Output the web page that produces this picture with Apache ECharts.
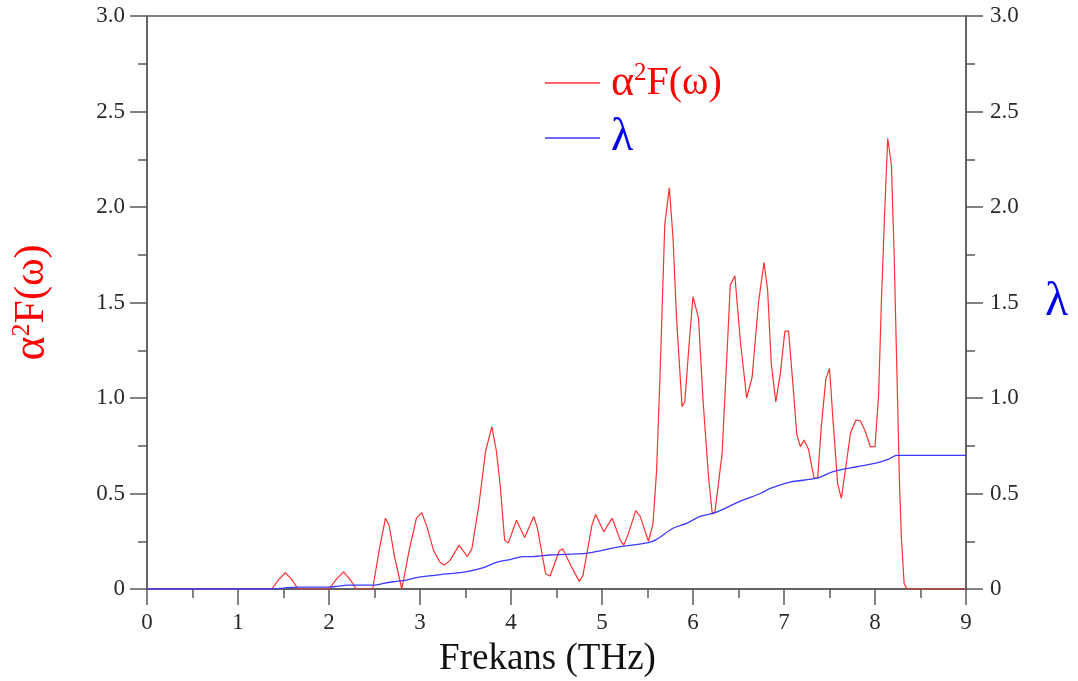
<!DOCTYPE html>
<html>
<head>
<meta charset="utf-8">
<script src="https://cdn.jsdelivr.net/npm/echarts@6/dist/echarts.min.js"></script>
<style>
html,body{margin:0;padding:0;background:#fff;}
#chart{width:1078px;height:681px;}
</style>
</head>
<body>
<div id="chart"></div>
<script>
// alpha^2 F(omega) (left axis)
const afFreq = [0, 1.37, 1.45, 1.52, 1.59, 1.66, 2.0, 2.08, 2.16, 2.23, 2.30, 2.48, 2.55, 2.62, 2.66, 2.72, 2.80, 2.88, 2.96, 3.02, 3.08, 3.15, 3.22, 3.27, 3.33, 3.43, 3.52, 3.57, 3.65, 3.72, 3.79, 3.84, 3.88, 3.93, 3.97, 4.06, 4.15, 4.25, 4.29, 4.38, 4.43, 4.53, 4.57, 4.66, 4.75, 4.79, 4.89, 4.93, 5.02, 5.11, 5.14, 5.20, 5.24, 5.29, 5.37, 5.42, 5.51, 5.56, 5.60, 5.64, 5.69, 5.74, 5.78, 5.82, 5.88, 5.91, 5.96, 6.00, 6.06, 6.11, 6.17, 6.21, 6.24, 6.32, 6.41, 6.46, 6.52, 6.59, 6.65, 6.72, 6.78, 6.82, 6.86, 6.91, 6.96, 7.01, 7.05, 7.10, 7.14, 7.18, 7.22, 7.27, 7.33, 7.37, 7.41, 7.46, 7.50, 7.54, 7.59, 7.63, 7.68, 7.73, 7.79, 7.84, 7.89, 7.95, 8.00, 8.04, 8.07, 8.11, 8.14, 8.18, 8.21, 8.24, 8.27, 8.29, 8.32, 8.35, 9.0];
const afVal = [0, 0, 0.05, 0.085, 0.05, 0, 0, 0.05, 0.09, 0.05, 0, 0, 0.2, 0.37, 0.335, 0.17, 0, 0.2, 0.37, 0.40, 0.32, 0.2, 0.14, 0.125, 0.15, 0.23, 0.17, 0.21, 0.45, 0.72, 0.85, 0.72, 0.55, 0.256, 0.24, 0.36, 0.27, 0.38, 0.32, 0.08, 0.068, 0.20, 0.21, 0.12, 0.04, 0.07, 0.335, 0.39, 0.30, 0.37, 0.335, 0.256, 0.23, 0.29, 0.41, 0.38, 0.25, 0.34, 0.62, 1.15, 1.91, 2.10, 1.84, 1.41, 0.955, 0.98, 1.30, 1.53, 1.42, 0.99, 0.59, 0.40, 0.40, 0.71, 1.59, 1.64, 1.30, 1.00, 1.11, 1.50, 1.71, 1.565, 1.18, 0.98, 1.13, 1.35, 1.35, 1.06, 0.81, 0.745, 0.78, 0.73, 0.58, 0.58, 0.85, 1.10, 1.155, 0.875, 0.55, 0.475, 0.64, 0.815, 0.885, 0.88, 0.83, 0.745, 0.745, 1.02, 1.50, 2.02, 2.36, 2.22, 1.76, 1.15, 0.54, 0.27, 0.03, 0, 0];

// lambda (right axis)
const lamFreq = [0, 1.37, 1.50, 1.65, 2.0, 2.1, 2.2, 2.5, 2.6, 2.7, 2.85, 2.96, 3.18, 3.5, 3.69, 3.84, 4.0, 4.13, 4.24, 4.43, 4.83, 4.98, 5.16, 5.51, 5.60, 5.78, 5.93, 6.08, 6.22, 6.33, 6.52, 6.74, 6.85, 7.07, 7.36, 7.54, 7.80, 8.02, 8.15, 8.24, 9.0];
const lamVal = [0, 0, 0.005, 0.01, 0.01, 0.015, 0.02, 0.02, 0.03, 0.038, 0.047, 0.06, 0.073, 0.09, 0.11, 0.14, 0.155, 0.17, 0.17, 0.178, 0.187, 0.2, 0.218, 0.243, 0.26, 0.318, 0.344, 0.38, 0.396, 0.417, 0.46, 0.50, 0.527, 0.56, 0.58, 0.614, 0.64, 0.66, 0.68, 0.70, 0.70];

const xTitle = 'Frekans (THz)';
const afName = 'α2F(ω)';
const lamName = 'λ';

const FONT = '"Liberation Serif", "DejaVu Serif", serif';
const axisGrey = '#5a5a5a';
const labelColor = '#2a2a2a';
const fmt = v => (v === 0 ? '0' : v.toFixed(1));
const afRich = '{a|α}{s|2}{b|F(ω)}';

const chart = echarts.init(document.getElementById('chart'), null, {renderer: 'canvas'});

function yAxisDef(pos, margin) {
  return {
    type: 'value', min: 0, max: 3, interval: 0.5, position: pos,
    axisLine: {show: true, lineStyle: {color: axisGrey, width: 1.5}},
    axisTick: {show: true, inside: false, length: 17, lineStyle: {color: axisGrey, width: 1.5}},
    minorTick: {show: true, splitNumber: 2, length: 9, lineStyle: {color: axisGrey, width: 1.5}},
    splitLine: {show: false},
    axisLabel: {fontFamily: FONT, fontSize: 23, color: labelColor, formatter: fmt, margin: margin}
  };
}

const yLeft = Object.assign(yAxisDef('left', 22), {
  name: afRich, nameLocation: 'middle', nameRotate: 90, nameGap: 92,
  nameTextStyle: {
    color: '#ff0000', fontFamily: FONT,
    rich: {
      a: {fontFamily: FONT, fontSize: 46, color: '#ff0000'},
      s: {fontFamily: FONT, fontSize: 26, color: '#ff0000', verticalAlign: 'top', padding: [0, 0, 14, 0]},
      b: {fontFamily: FONT, fontSize: 42, color: '#ff0000'}
    }
  }
});
const yRight = Object.assign(yAxisDef('right', 24), {
  name: lamName, nameLocation: 'middle', nameRotate: 0, nameGap: 79,
  nameTextStyle: {fontFamily: FONT, fontSize: 48, color: '#0000ee', align: 'left'}
});

chart.setOption({
  animation: false,
  backgroundColor: '#fff',
  grid: {left: 147, right: 112, top: 16, bottom: 92, show: true, borderColor: axisGrey, borderWidth: 1.5,
         containLabel: false, outerBoundsMode: 'none'},
  legend: {
    orient: 'vertical', left: 540, top: 56, itemGap: 10,
    itemWidth: 55, itemHeight: 1.5, icon: 'rect',
    formatter: n => (n === afName ? afRich : n),
    textStyle: {
      fontFamily: FONT, fontSize: 42, padding: [0, 0, 0, 6],
      rich: {
        a: {fontFamily: FONT, fontSize: 44, color: '#ff0000'},
        s: {fontFamily: FONT, fontSize: 25, color: '#ff0000', verticalAlign: 'top', padding: [0, 0, 12, 0]},
        b: {fontFamily: FONT, fontSize: 40, color: '#ff0000'}
      }
    },
    data: [
      {name: afName, textStyle: {color: '#ff0000'}},
      {name: lamName, textStyle: {color: '#0000ee', fontSize: 46}}
    ]
  },
  xAxis: {
    type: 'value', min: 0, max: 9, interval: 1,
    name: xTitle, nameLocation: 'middle', nameGap: 52,
    nameTextStyle: {fontFamily: FONT, fontSize: 37, color: '#111', padding: [0, 18, 0, 0]},
    axisLine: {show: true, onZero: false, lineStyle: {color: axisGrey, width: 1.5}},
    axisTick: {show: true, inside: false, length: 16, lineStyle: {color: axisGrey, width: 1.5}},
    minorTick: {show: true, splitNumber: 2, length: 9, lineStyle: {color: axisGrey, width: 1.5}},
    splitLine: {show: false},
    axisLabel: {fontFamily: FONT, fontSize: 23, color: labelColor, margin: 22}
  },
  yAxis: [yLeft, yRight],
  series: [
    {
      name: afName, type: 'line', yAxisIndex: 0,
      data: afFreq.map((f, i) => [f, afVal[i]]),
      showSymbol: false, smooth: false,
      lineStyle: {color: '#ff3030', width: 1.2},
      itemStyle: {color: '#ff3030'}
    },
    {
      name: lamName, type: 'line', yAxisIndex: 1,
      data: lamFreq.map((f, i) => [f, lamVal[i]]),
      showSymbol: false, smooth: 0.3,
      lineStyle: {color: '#3a3aff', width: 1.3},
      itemStyle: {color: '#3a3aff'}
    }
  ]
});
</script>
</body>
</html>
